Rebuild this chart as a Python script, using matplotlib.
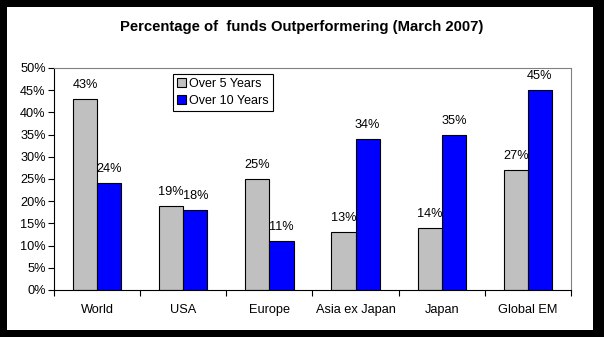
import matplotlib
matplotlib.use("Agg")
import matplotlib.pyplot as plt
from matplotlib.patches import Rectangle
import numpy as np

categories = ["World", "USA", "Europe", "Asia ex Japan", "Japan", "Global EM"]
over5 = [43, 19, 25, 13, 14, 27]
over10 = [24, 18, 11, 34, 35, 45]
series_names = ["Over 5 Years", "Over 10 Years"]
yticks = [0, 5, 10, 15, 20, 25, 30, 35, 40, 45, 50]

plt.rcParams['font.family'] = ['Liberation Sans', 'DejaVu Sans']

W, H = 604, 337
fig = plt.figure(figsize=(W/100, H/100), dpi=100)
# outer black frame
fig.add_artist(Rectangle((0, 0), 1, 1, transform=fig.transFigure, facecolor='black', edgecolor='none', zorder=-10))
fig.add_artist(Rectangle((7/W, 7/H), (593-7)/W, (330-7)/H, transform=fig.transFigure,
                         facecolor='white', edgecolor='none', zorder=-9))

ax = fig.add_axes([54/W, (337-290)/H, (571-54)/W, (290-68)/H])
ax.set_facecolor('none')
x = np.arange(len(categories))
bw = 0.28
b1 = ax.bar(x - bw/2, over5, bw, color='#C0C0C0', edgecolor='black', linewidth=0.8, label=series_names[0])
b2 = ax.bar(x + bw/2, over10, bw, color='#0000FF', edgecolor='black', linewidth=0.8, label=series_names[1])
for bars, vals in ((b1, over5), (b2, over10)):
    for r, v in zip(bars, vals):
        ax.text(r.get_x() + r.get_width()/2, v + 1.8, f"{v}%", ha='center', va='bottom', fontsize=9.2)

ax.set_xlim(-0.5, len(categories) - 0.5)
ax.set_ylim(0, 50)
ax.set_yticks(yticks)
ax.set_yticklabels([f"{t}%" for t in yticks], fontsize=9.2)
ax.set_xticks(x)
ax.set_xticklabels(categories, fontsize=9.2)
ax.tick_params(axis='x', which='major', length=0, pad=10)
ax.set_xticks(np.arange(-0.5, len(categories)), minor=True)
ax.tick_params(axis='x', which='minor', length=4, direction='out', width=0.8)
ax.tick_params(axis='y', length=4, direction='out', width=0.8, pad=2)
for s in ('left', 'bottom'):
    ax.spines[s].set_color('black')
    ax.spines[s].set_linewidth(0.8)
for s in ('top', 'right'):
    ax.spines[s].set_color('#808080')
    ax.spines[s].set_linewidth(0.8)

leg = ax.legend(loc='upper left', bbox_to_anchor=((173-54)/517, 1 - (74-68)/222), fontsize=9,
                frameon=True, fancybox=False, edgecolor='black', framealpha=1,
                handlelength=0.7, handleheight=0.7, handletextpad=0.3, borderpad=0.3,
                labelspacing=0.4, borderaxespad=0)
leg.get_frame().set_linewidth(0.8)

fig.text(0.5, (337-27)/H, "Percentage of  funds Outperformering (March 2007)", ha='center', va='center',
         fontsize=10.7, fontweight='bold')

fig.savefig("out.png", dpi=100)
